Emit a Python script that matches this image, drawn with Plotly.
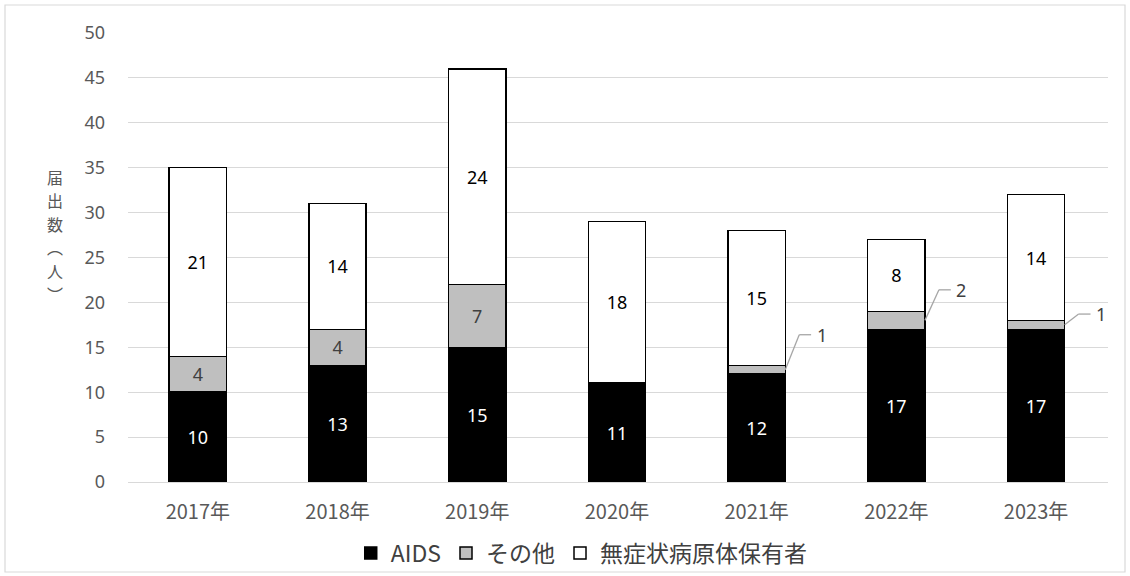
import plotly.graph_objects as go

years = ["2017年", "2018年", "2019年", "2020年", "2021年", "2022年", "2023年"]
aids = [10, 13, 15, 11, 12, 17, 17]
other = [4, 4, 7, 0, 1, 2, 1]
carrier = [21, 14, 24, 18, 15, 8, 14]

FONT = "Noto Sans CJK JP"
BAR_W = 0.41
W, H = 1130, 576
ML, MR, MT, MB = 128, 22, 33, 94
PLOT_W = W - ML - MR
PLOT_H = H - MT - MB


def px_to_paper(px, py):
    """Pixel position on the page -> paper coordinates of the plot area."""
    return (px - ML) / PLOT_W, (H - MB - py) / PLOT_H


fig = go.Figure()

fig.add_bar(
    x=years, y=aids, name="AIDS", width=BAR_W,
    marker=dict(color="#000000", line=dict(color="#000000", width=1.5)),
    text=[str(v) for v in aids], textposition="inside", insidetextanchor="middle",
    textfont=dict(color="#ffffff", size=18, family="Noto Sans"),
)

# small "other" segments get a leader-line label outside the bar
other_inside = [str(v) if v >= 3 else "" for v in other]
fig.add_bar(
    x=years, y=other, name="その他", width=BAR_W,
    marker=dict(color="#BFBFBF", line=dict(color="#000000", width=1.5)),
    text=other_inside, textposition="inside", insidetextanchor="middle",
    textfont=dict(color="#404040", size=18, family="Noto Sans"),
)

fig.add_bar(
    x=years, y=carrier, name="無症状病原体保有者", width=BAR_W,
    marker=dict(color="#ffffff", line=dict(color="#000000", width=1.5)),
    text=[str(v) for v in carrier], textposition="inside", insidetextanchor="middle",
    textfont=dict(color="#000000", size=18, family="Noto Sans"),
)

# leader lines for the thin segments: rise of the elbow above the segment middle
lead_rise = {4: 3.9, 5: 3.4, 6: 1.2}
shapes = []
for i, rise in lead_rise.items():
    y0 = aids[i] + other[i] / 2
    x0 = i + BAR_W / 2
    x1 = x0 + 0.1
    y1 = y0 + rise
    x2 = x1 + 0.085
    line_style = dict(color="#A6A6A6", width=1.3)
    shapes.append(dict(type="line", xref="x", yref="y",
                       x0=x0, y0=y0, x1=x1, y1=y1, line=line_style))
    shapes.append(dict(type="line", xref="x", yref="y",
                       x0=x1, y0=y1, x1=x2, y1=y1, line=line_style))
    fig.add_annotation(
        x=x2 + 0.025, y=y1, xref="x", yref="y", text=str(other[i]),
        showarrow=False, xanchor="left", yanchor="middle",
        font=dict(color="#404040", size=18, family="Noto Sans"),
    )

# vertical axis title, one stacked character per annotation
title_chars = ["届", "出", "数", "︵", "人", "︶"]
title_py = [177, 200.4, 223.8, 247.2, 270.6, 294]
for ch, py in zip(title_chars, title_py):
    ax, ay = px_to_paper(55, py)
    fig.add_annotation(
        x=ax, y=ay, xref="paper", yref="paper", text=ch,
        showarrow=False, xanchor="center", yanchor="middle",
        font=dict(color="#595959", size=16, family=FONT),
    )

# thin frame around the whole chart
fx0, fy0 = px_to_paper(5, 572)
fx1, fy1 = px_to_paper(1125, 5)
shapes.append(dict(type="rect", xref="paper", yref="paper",
                   x0=fx0, x1=fx1, y0=fy0, y1=fy1,
                   line=dict(color="#D9D9D9", width=1.2)))

fig.update_layout(
    width=W, height=H,
    margin=dict(l=ML, r=MR, t=MT, b=MB, autoexpand=False),
    paper_bgcolor="#ffffff", plot_bgcolor="#ffffff",
    barmode="stack", bargap=0.59,
    showlegend=True,
    legend=dict(
        orientation="h", x=0.463, xanchor="center",
        yref="container", y=(H - 553) / H, yanchor="middle",
        font=dict(color="#404040", size=23, family=FONT),
        itemwidth=30, traceorder="normal", bgcolor="rgba(0,0,0,0)",
    ),
    xaxis=dict(
        showgrid=False, showline=True, linecolor="#D9D9D9", linewidth=1,
        ticks="", tickfont=dict(color="#595959", size=20, family=FONT),
        ticklabelstandoff=12,
    ),
    yaxis=dict(
        range=[0, 50], dtick=5, showgrid=True, gridcolor="#D9D9D9", gridwidth=1,
        zeroline=False, showline=False, ticks="",
        tickfont=dict(color="#595959", size=18, family="Noto Sans"),
        ticklabelstandoff=22,
    ),
    shapes=shapes,
)

fig.write_html("out.html")
